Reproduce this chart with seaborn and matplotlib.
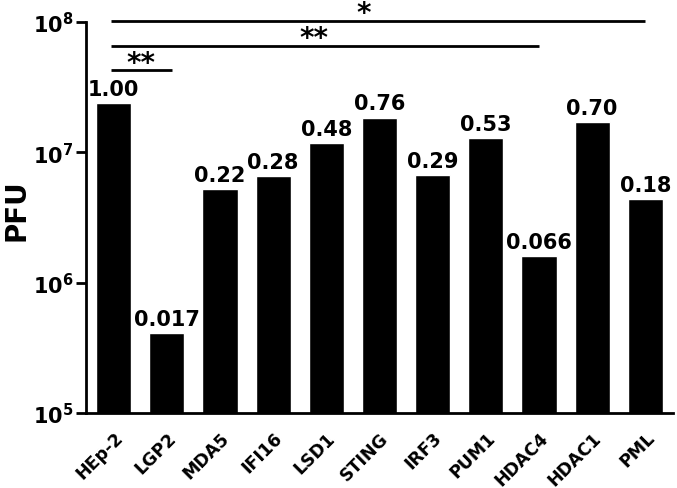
import matplotlib

matplotlib.use("Agg")
import matplotlib.pyplot as plt
import matplotlib.transforms as mtransforms
import pandas as pd
import seaborn as sns

sns.set_theme(style="white")
plt.rcParams["font.family"] = ["DejaVu Sans"]
plt.rcParams["mathtext.fontset"] = "dejavusans"
plt.rcParams["text.color"] = "black"
plt.rcParams["axes.labelcolor"] = "black"
plt.rcParams["xtick.color"] = "black"
plt.rcParams["ytick.color"] = "black"

# PFU per cell line and the relative-titre labels
cells = ["HEp-2", "LGP2", "MDA5", "IFI16", "LSD1", "STING",
         "IRF3", "PUM1", "HDAC4", "HDAC1", "PML"]
pfu = [2.4e7, 4.1e5, 5.2e6, 6.6e6, 1.17e7, 1.85e7,
       6.7e6, 1.28e7, 1.6e6, 1.7e7, 4.4e6]
ratio_labels = ["1.00", "0.017", "0.22", "0.28", "0.48", "0.76",
                "0.29", "0.53", "0.066", "0.70", "0.18"]

# significance brackets: start, end, line height (axes fraction), stars,
# star x position, star centre height (axes fraction)
br_start = [-0.05, -0.05, -0.05]
br_end = [10.0, 8.0, 1.1]
br_y = [1.003, 0.939, 0.877]
br_stars = ["*", "**", "**"]
br_star_x = [4.71, 3.77, 0.52]
br_star_y = [1.029, 0.965, 0.899]

df = pd.DataFrame({"cell": cells, "pfu": pfu})

fig = plt.figure(figsize=(6.77, 4.89), dpi=100)
ax = fig.add_axes([86 / 677, 1 - 414 / 489, 587 / 677, 391 / 489])

sns.barplot(data=df, x="cell", y="pfu", color="black", width=0.66,
            saturation=1, ax=ax)
ax.set_yscale("log")
ax.set_ylim(1e5, 1e8)
ax.set_xlim(-0.52, 10.52)

ax.set_yticks([1e5, 1e6, 1e7, 1e8])
ax.set_yticklabels([r"$\mathbf{10^5}$", r"$\mathbf{10^6}$",
                    r"$\mathbf{10^7}$", r"$\mathbf{10^8}$"], fontsize=15)
ax.minorticks_off()
ax.tick_params(axis="y", which="major", direction="out", length=7,
               width=2, color="black", pad=2, left=True)
ax.tick_params(axis="x", length=0, pad=11)
ax.set_xticks(range(len(cells)))
ax.set_xticklabels(cells, rotation=45, ha="right", rotation_mode="anchor",
                   fontsize=12.5, fontweight="bold")

ax.set_xlabel("")
ax.set_ylabel("PFU", fontsize=20, fontweight="bold")
ax.yaxis.set_label_coords(-0.095, 0.52)

for s in ["top", "right"]:
    ax.spines[s].set_visible(False)
for s in ["left", "bottom"]:
    ax.spines[s].set_linewidth(2)
    ax.spines[s].set_color("black")

for i, (v, lab) in enumerate(zip(pfu, ratio_labels)):
    ax.annotate(lab, (i, v), xytext=(0, 3), textcoords="offset points",
                ha="center", va="bottom", fontsize=15, fontweight="bold")

trans = ax.get_xaxis_transform()
# asterisk ink sits well above the baseline; drop so the ink is centred
star_drop = mtransforms.ScaledTranslation(0, -0.36 * 20 / 72, fig.dpi_scale_trans)
for x0, x1, y, stars, sx, sy in zip(br_start, br_end, br_y, br_stars,
                                    br_star_x, br_star_y):
    ax.plot([x0, x1], [y, y], color="black", lw=2, transform=trans,
            clip_on=False, solid_capstyle="butt")
    ax.text(sx, sy, stars, transform=trans + star_drop, ha="center",
            va="baseline", fontsize=20, fontweight="bold")

fig.savefig("out.png", dpi=100)
